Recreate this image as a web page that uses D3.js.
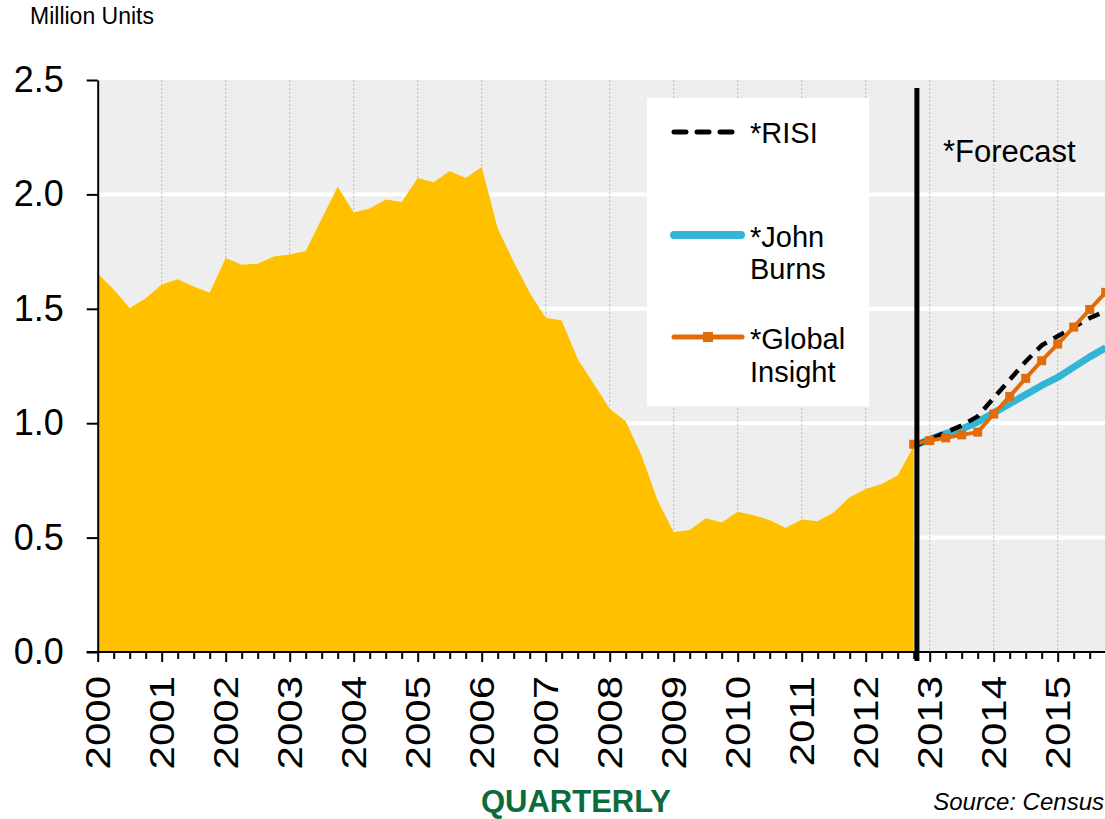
<!DOCTYPE html>
<html>
<head>
<meta charset="utf-8">
<script src="https://cdn.jsdelivr.net/npm/d3@7"></script>
<style>
  body { margin: 0; background: #fff; }
  svg { display: block; font-family: "Liberation Sans", Arial, sans-serif; }
</style>
</head>
<body>
<svg id="chart" width="1105" height="819"></svg>
<script>
// historical quarterly starts, 2000 Q1 .. 2012 Q4 (million units)
const startYear = 2000;
const starts = [
    1.654, 1.584, 1.503, 1.546,
    1.606, 1.629, 1.598, 1.570,
    1.722, 1.693, 1.697, 1.729,
    1.737, 1.753, 1.894, 2.033,
    1.921, 1.938, 1.978, 1.967,
    2.072, 2.053, 2.102, 2.072,
    2.120, 1.851, 1.706, 1.570,
    1.461, 1.449, 1.281, 1.172,
    1.063, 1.008, 0.858, 0.661,
    0.525, 0.533, 0.585, 0.566,
    0.613, 0.598, 0.577, 0.542,
    0.579, 0.571, 0.610, 0.676,
    0.712, 0.734, 0.771, 0.900
];

// forecasts, 2012 Q4 .. 2015 Q4
const forecastStart = 2012.75;
const risi = [0.90, 0.93, 0.96, 0.99, 1.03, 1.11, 1.19, 1.27, 1.34, 1.38, 1.42, 1.46, 1.49];
const johnBurns = [0.90, 0.93, 0.955, 0.975, 1.005, 1.045, 1.085, 1.125, 1.165, 1.20, 1.245, 1.29, 1.33];
const globalInsight = [0.908, 0.924, 0.936, 0.949, 0.961, 1.04, 1.117, 1.196, 1.273, 1.346, 1.42, 1.497, 1.572];

const yTicks = [0, 0.5, 1.0, 1.5, 2.0, 2.5];
const years = d3.range(2000, 2016);
const forecastLine = 2012.8;

const svg = d3.select("#chart");

const x = d3.scaleLinear().domain([2000, 2016]).range([97.7, 97.7 + 16 * 64]);
const y = d3.scaleLinear().domain([0, 2.5]).range([652, 80]);

// plot background
svg.append("rect")
    .attr("x", x(2000)).attr("y", y(2.5))
    .attr("width", x(2016) - x(2000)).attr("height", y(0) - y(2.5))
    .attr("fill", "#eeeeee");

// horizontal white grid
svg.append("g")
    .selectAll("line")
    .data(yTicks.filter(d => d > 0 && d < 2.5))
    .join("line")
    .attr("x1", x(2000)).attr("x2", x(2016))
    .attr("y1", d => y(d)).attr("y2", d => y(d))
    .attr("stroke", "#fff").attr("stroke-width", 4);

// dotted year grid
svg.append("g")
    .selectAll("line")
    .data(years.filter(d => d > 2000))
    .join("line")
    .attr("x1", d => x(d)).attr("x2", d => x(d))
    .attr("y1", y(2.5)).attr("y2", y(0))
    .attr("stroke", "#b8b8b8").attr("stroke-width", 1)
    .attr("stroke-dasharray", "2,2");

// legend box (sits on the grid, under the data)
svg.append("rect")
    .attr("x", 647).attr("y", 98).attr("width", 222).attr("height", 308)
    .attr("fill", "#fff");

// area of actual starts
const histData = starts.map((v, i) => ({ t: startYear + i / 4, v }));
svg.append("path")
    .datum(histData)
    .attr("fill", "#ffc000")
    .attr("d", d3.area().x(d => x(d.t)).y0(y(0)).y1(d => y(d.v)));

const toPts = arr => arr.map((v, i) => ({ t: forecastStart + i / 4, v }));
const line = d3.line().x(d => x(d.t)).y(d => y(d.v));

svg.append("path")
    .datum(toPts(johnBurns))
    .attr("fill", "none").attr("stroke", "#33b5d6")
    .attr("stroke-width", 7).attr("stroke-linejoin", "round")
    .attr("d", line);

svg.append("path")
    .datum(toPts(risi))
    .attr("fill", "none").attr("stroke", "#000")
    .attr("stroke-width", 4.5).attr("stroke-dasharray", "12,8")
    .attr("d", line);

svg.append("path")
    .datum(toPts(globalInsight))
    .attr("fill", "none").attr("stroke", "#e36c0a")
    .attr("stroke-width", 4)
    .attr("d", line);

svg.append("g")
    .selectAll("rect")
    .data(toPts(globalInsight))
    .join("rect")
    .attr("x", d => x(d.t) - 4.5).attr("y", d => y(d.v) - 4.5)
    .attr("width", 9).attr("height", 9)
    .attr("fill", "#e36c0a");

// forecast divider
svg.append("line")
    .attr("x1", x(forecastLine)).attr("x2", x(forecastLine))
    .attr("y1", 88).attr("y2", 661)
    .attr("stroke", "#000").attr("stroke-width", 5);

svg.append("text")
    .attr("x", 943).attr("y", 162)
    .attr("font-size", 31).attr("fill", "#000")
    .text("*Forecast");

// axes
const xAxis = svg.append("g").attr("transform", `translate(0,${y(0)})`);
xAxis.append("g")
    .call(d3.axisBottom(x).tickValues(d3.range(2000, 2016, 0.25).filter(d => d % 1 !== 0))
        .tickSize(7).tickFormat("").tickSizeOuter(0))
    .call(g => g.select(".domain").remove())
    .selectAll("line").attr("stroke", "#000").attr("stroke-width", 2);
xAxis.append("g")
    .call(d3.axisBottom(x).tickValues(years).tickSize(10).tickFormat("").tickSizeOuter(0))
    .call(g => g.select(".domain").remove())
    .selectAll("line").attr("stroke", "#000").attr("stroke-width", 2);
xAxis.append("line")
    .attr("x1", x(2000) - 11).attr("x2", 1105)
    .attr("stroke", "#000").attr("stroke-width", 2);

// year labels, stretched along their length like the original
svg.append("g")
    .selectAll("text")
    .data(years)
    .join("text")
    .attr("transform", d => `translate(${x(d)},676) rotate(-90) scale(1.2,1)`)
    .attr("text-anchor", "end").attr("dy", "0.35em")
    .attr("font-size", 35).attr("fill", "#000")
    .text(d => d);

const yAxis = svg.append("g").attr("transform", `translate(${x(2000)},0)`);
yAxis.call(d3.axisLeft(y).tickValues(yTicks).tickSize(11).tickSizeOuter(0).tickFormat(d3.format(".1f")))
    .call(g => g.select(".domain").attr("stroke-width", 2))
    .call(g => g.selectAll(".tick line").attr("stroke-width", 2))
    .call(g => g.selectAll(".tick text")
        .attr("x", -34).attr("font-size", 36)
        .attr("font-family", "Liberation Sans, Arial, sans-serif").attr("fill", "#000"));

// legend entries
const legend = svg.append("g");
legend.append("line")
    .attr("x1", 674).attr("x2", 733).attr("y1", 132).attr("y2", 132)
    .attr("stroke", "#000").attr("stroke-width", 5)
    .attr("stroke-linecap", "round").attr("stroke-dasharray", "12,11");
legend.append("text").attr("x", 750).attr("y", 143).attr("font-size", 29).text("*RISI");

legend.append("line")
    .attr("x1", 674).attr("x2", 741).attr("y1", 235).attr("y2", 235)
    .attr("stroke", "#33b5d6").attr("stroke-width", 8).attr("stroke-linecap", "round");
legend.append("text").attr("x", 750).attr("y", 247).attr("font-size", 29).text("*John");
legend.append("text").attr("x", 750).attr("y", 279).attr("font-size", 29).text("Burns");

legend.append("line")
    .attr("x1", 674).attr("x2", 742).attr("y1", 337).attr("y2", 337)
    .attr("stroke", "#e36c0a").attr("stroke-width", 5).attr("stroke-linecap", "round");
legend.append("rect")
    .attr("x", 703).attr("y", 332).attr("width", 10).attr("height", 10).attr("fill", "#e36c0a");
legend.append("text").attr("x", 750).attr("y", 349).attr("font-size", 29).text("*Global");
legend.append("text").attr("x", 750).attr("y", 382).attr("font-size", 29).text("Insight");

// titles and notes
svg.append("text")
    .attr("x", 30).attr("y", 24)
    .attr("font-size", 23).attr("fill", "#000")
    .text("Million Units");

svg.append("text")
    .attr("x", 576).attr("y", 812)
    .attr("text-anchor", "middle")
    .attr("font-size", 31).attr("font-weight", "bold").attr("fill", "#0b6b3a")
    .text("QUARTERLY");

svg.append("text")
    .attr("x", 1104).attr("y", 810)
    .attr("text-anchor", "end")
    .attr("font-size", 24).attr("font-style", "italic").attr("fill", "#000")
    .text("Source: Census");
</script>
</body>
</html>
